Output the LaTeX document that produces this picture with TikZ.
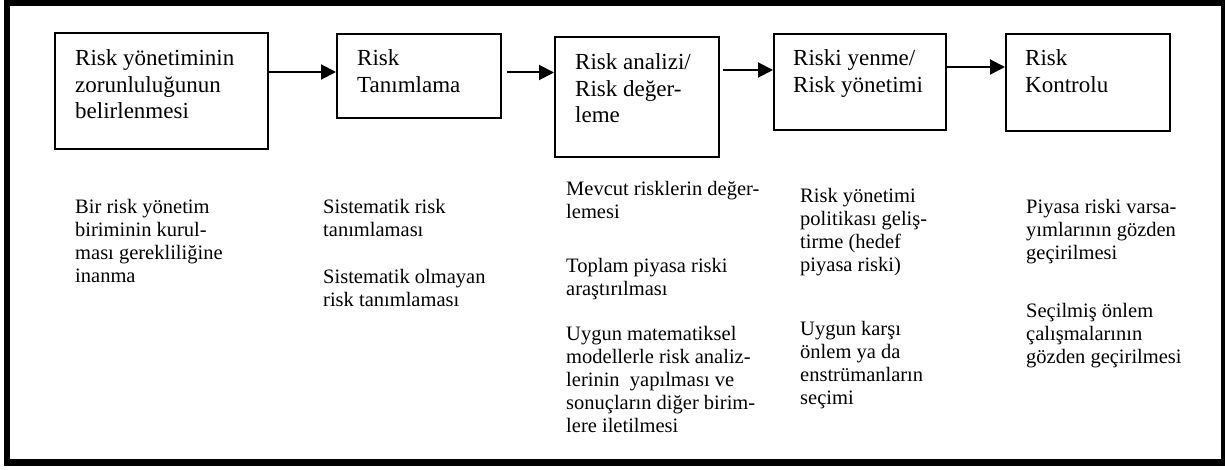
\documentclass[tikz,border=0pt]{standalone}
\usepackage{fontspec}
\setmainfont{Liberation Serif}
\usetikzlibrary{arrows.meta}
\tikzset{
  boxshape/.style={draw, line width=2.2pt, inner sep=0pt, anchor=north west},
  boxtext/.style={anchor=north west, inner sep=0pt, align=left, font=\fontsize{23}{26.7}\selectfont},
  bodytext/.style={anchor=north west, inner sep=0pt, align=left, font=\fontsize{20.5}{23}\selectfont},
  flowarrow/.style={line width=2pt, -{Triangle[length=15pt,width=15pt]}},
}
\begin{document}
\begin{tikzpicture}[x=1pt, y=-1pt]
\useasboundingbox (0,0) rectangle (1225,470);
% outer frame
\draw[line width=6pt] (7,466) -- (7,3) -- (1223,3);
\draw[line width=7pt] (4,462) -- (1224.5,462);
\draw[line width=3.5pt] (1223,0) -- (1223,465);
% boxes
\node[boxshape, minimum width=213pt, minimum height=116pt] (b1) at (54,32) {};
\node[boxshape, minimum width=164pt, minimum height=84pt] (b2) at (336,33) {};
\node[boxshape, minimum width=164pt, minimum height=120pt] (b3) at (554,36) {};
\node[boxshape, minimum width=172pt, minimum height=96pt] (b4) at (773,33) {};
\node[boxshape, minimum width=164pt, minimum height=97pt] (b5) at (1005,33) {};
% box texts
\node[boxtext] (t1) at (75,49.3) {Risk yönetiminin\\zorunluluğunun\\belirlenmesi};
\node[boxtext] (t2) at (357,49.3) {Risk\\Tanımlama};
\node[boxtext] (t3) at (575,53.3) {Risk analizi/\\Risk değer-\\leme};
\node[boxtext] (t4) at (793,49.3) {Riski yenme/\\Risk yönetimi};
\node[boxtext] (t5) at (1025,49.3) {Risk\\Kontrolu};
% arrows
\coordinate (a2s) at (507,72.5);
\coordinate (a3s) at (723,70);
\draw[flowarrow] (b1.east |- 0,72) -- (b2.west |- 0,72);
\draw[flowarrow] (a2s) -- (b3.west |- a2s);
\draw[flowarrow] (a3s) -- (b4.west |- a3s);
\draw[flowarrow] (b4.east |- 0,67) -- (b5.west |- 0,67);
% column texts
\node[bodytext] (c1) at (75,199) {Bir risk yönetim\\biriminin kurul-\\ması gerekliliğine\\inanma};
\node[bodytext] (c2a) at (323,199) {Sistematik risk\\tanımlaması};
\node[bodytext] (c2b) at (323,269) {Sistematik olmayan\\risk tanımlaması};
\node[bodytext] (c3a) at (566,181) {Mevcut risklerin değer-\\lemesi};
\node[bodytext] (c3b) at (566,258) {Toplam piyasa riski\\araştırılması};
\node[bodytext] (c3c) at (566,326) {Uygun matematiksel\\modellerle risk analiz-\\lerinin\ \ yapılması ve\\sonuçların diğer birim-\\lere iletilmesi};
\node[bodytext] (c4a) at (800,188) {Risk yönetimi\\politikası geliş-\\tirme (hedef\\piyasa riski)};
\node[bodytext] (c4b) at (800,321) {Uygun karşı\\önlem ya da\\enstrümanların\\seçimi};
\node[bodytext] (c5a) at (1026,199) {Piyasa riski varsa-\\yımlarının gözden\\geçirilmesi};
\node[bodytext] (c5b) at (1026,303) {Seçilmiş önlem\\çalışmalarının\\gözden geçirilmesi};
\end{tikzpicture}
\end{document}
